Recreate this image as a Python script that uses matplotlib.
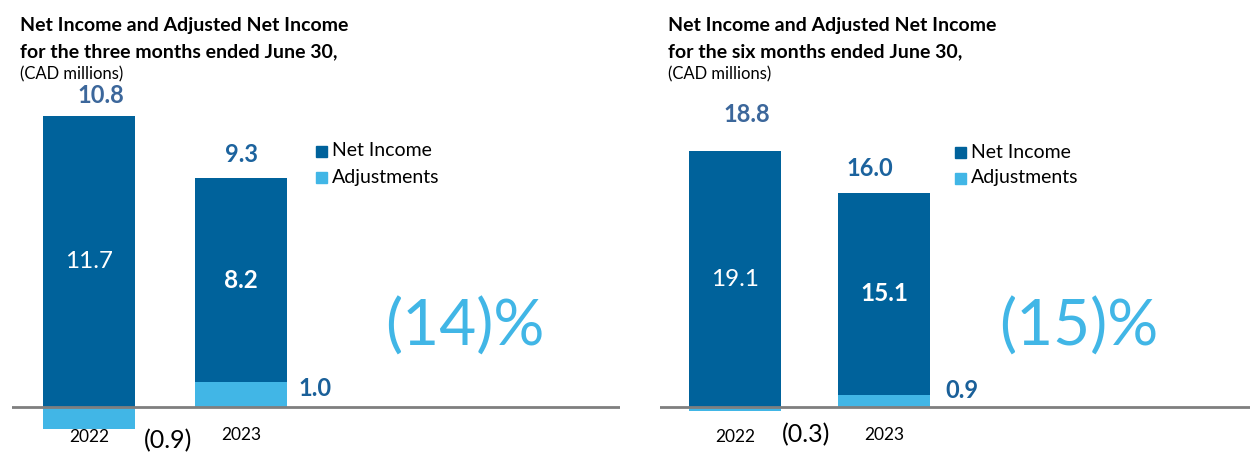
import matplotlib
matplotlib.use("Agg")
import matplotlib.pyplot as plt

# --- data (CAD millions) ---
YEARS = ["2022", "2023"]
Q2_NET_INCOME = [11.7, 8.2]
Q2_ADJUSTMENTS = [-0.9, 1.0]
Q2_ADJUSTED = [10.8, 9.3]
Q2_CHANGE = "(14)%"

H1_NET_INCOME = [19.1, 15.1]
H1_ADJUSTMENTS = [-0.3, 0.9]
H1_ADJUSTED = [18.8, 16.0]
H1_CHANGE = "(15)%"

# --- style ---
DARK_BLUE = "#00629B"
LIGHT_BLUE = "#41B6E6"
TOTAL_BLUE_OLD = "#3C679B"
TOTAL_BLUE_NEW = "#1C639E"
LABEL_BLUE = "#1A6099"
AXIS_GRAY = "#7F7F7F"
FONT = ["Lato", "DejaVu Sans"]

W, H = 1252, 453
plt.rcParams["font.family"] = FONT

fig = plt.figure(figsize=(W / 100, H / 100), dpi=100)


def fmt_adj(v):
    return f"({abs(v):.1f})" if v < 0 else f"{v:.1f}"


def panel(x0, x1, centers, px_per_unit, period, net, adj, total, change,
          total_offsets, neg_label_px, pos_label_px, legend_px, change_px,
          inner_bold):
    base = 407  # baseline, pixels from top
    bar_px = 92
    step = centers[1] - centers[0]
    ax = fig.add_axes([x0 / W, 0, (x1 - x0) / W, 1])
    ax.set_xlim((x0 - centers[0]) / step, (x1 - centers[0]) / step)
    ax.set_ylim(-(H - base) / px_per_unit, base / px_per_unit)
    ax.axis("off")

    xs = [0, 1]
    width = bar_px / step
    # adjustments sit below zero when negative, under net income when positive
    adj_bottom = [0 if a >= 0 else a for a in adj]
    adj_height = [abs(a) for a in adj]
    ni_bottom = [a if a > 0 else 0 for a in adj]
    ax.bar(xs, adj_height, width, bottom=adj_bottom, color=LIGHT_BLUE, zorder=2)
    ax.bar(xs, net, width, bottom=ni_bottom, color=DARK_BLUE, zorder=2)
    ax.axhline(0, color=AXIS_GRAY, lw=2, zorder=3)

    # net income values inside bars
    for i in xs:
        ax.text(i, ni_bottom[i] + net[i] / 2, f"{net[i]:.1f}", color="white",
                ha="center", va="center", fontsize=17.5,
                fontweight="bold" if inner_bold[i] else "normal")

    # adjusted totals above bars
    for i, col in zip(xs, [TOTAL_BLUE_OLD, TOTAL_BLUE_NEW]):
        top = ni_bottom[i] + net[i]
        ax.annotate(f"{total[i]:.1f}", (i, top), xytext=total_offsets[i],
                    textcoords="offset pixels", ha="center", va="center",
                    fontsize=17, fontweight="bold", color=col)

    # adjustment values
    for i in xs:
        if adj[i] < 0:
            ax.annotate(fmt_adj(adj[i]), (i, 0), xytext=neg_label_px,
                        textcoords="offset pixels", ha="center", va="center",
                        fontsize=18, color="black")
        else:
            ax.annotate(fmt_adj(adj[i]), (i, adj[i]), xytext=pos_label_px,
                        textcoords="offset pixels", ha="center", va="center",
                        fontsize=17, fontweight="bold", color=LABEL_BLUE)

    # year labels under the axis
    for i in xs:
        ax.annotate(YEARS[i], (i, 0), xytext=(0, -30 + 2 * i),
                    textcoords="offset pixels", ha="center", va="center",
                    fontsize=12.5, color="black")

    # legend
    lx, ly = legend_px
    for k, (name, col) in enumerate([("Net Income", DARK_BLUE),
                                     ("Adjustments", LIGHT_BLUE)]):
        yy = ly + 26 * k
        fig.patches.append(plt.Rectangle(((lx) / W, 1 - (yy + 6) / H),
                                         11 / W, 11 / H, color=col,
                                         transform=fig.transFigure))
        fig.text((lx + 16) / W, 1 - yy / H, name, fontsize=14, va="center",
                 ha="left", color="black")

    # percentage change
    fig.text(change_px[0] / W, 1 - change_px[1] / H, change, fontsize=46,
             fontweight="normal", color=LIGHT_BLUE, ha="center", va="center")

    # titles
    fig.text((x0 + 8) / W, 1 - 25 / H, "Net Income and Adjusted Net Income",
             fontsize=14, fontweight="bold", va="center", ha="left")
    fig.text((x0 + 8) / W, 1 - 52 / H, f"for the {period} months ended June 30,",
             fontsize=14, fontweight="bold", va="center", ha="left")
    fig.text((x0 + 8) / W, 1 - 74 / H, "(CAD millions)", fontsize=12,
             va="center", ha="left")


panel(12, 620, (89, 241), 24.9, "three", Q2_NET_INCOME, Q2_ADJUSTMENTS,
      Q2_ADJUSTED, Q2_CHANGE,
      total_offsets=[(12, 20), (0, 23)], neg_label_px=(79, -34),
      pos_label_px=(74, -6), legend_px=(316, 151), change_px=(465, 327),
      inner_bold=[False, True])

panel(660, 1250, (735, 884), 13.4, "six", H1_NET_INCOME, H1_ADJUSTMENTS,
      H1_ADJUSTED, H1_CHANGE,
      total_offsets=[(12, 37), (-14, 24)], neg_label_px=(71, -28),
      pos_label_px=(78, 4), legend_px=(955, 152), change_px=(1079, 327),
      inner_bold=[False, True])

fig.savefig("out.png", dpi=100, facecolor="white")
